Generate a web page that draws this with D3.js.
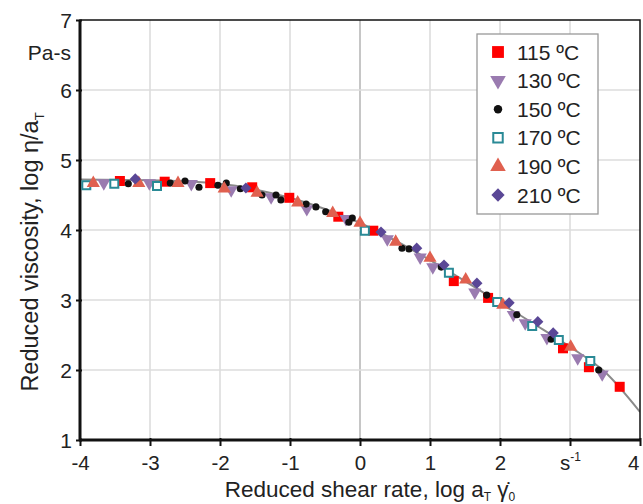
<!DOCTYPE html>
<html><head><meta charset="utf-8">
<script src="https://cdn.jsdelivr.net/npm/d3@7"></script>
<style>body{margin:0;background:#fff}svg{display:block;font-family:"Liberation Sans",Arial,sans-serif}</style>
</head><body><svg id="c" width="643" height="504"></svg>
<script>
const xTicks = [-4,-3,-2,-1,0,1,2,3,4];
const xTickLabels = ["-4","-3","-2","-1","0","1","2","s-1","4"];
const yTicks = [1,2,3,4,5,6,7];
const seriesNames = ["115 ºC","130 ºC","150 ºC","170 ºC","190 ºC","210 ºC"];
const s115 = [[-3.43,4.70],[-2.79,4.69],[-2.14,4.67],[-1.54,4.61],[-1.01,4.46],[-0.31,4.19],[0.19,3.99],[1.34,3.27],[1.83,3.03],[2.90,2.31],[3.27,2.04],[3.71,1.76]];
const s130 = [[-3.66,4.67],[-3.01,4.67],[-2.41,4.66],[-1.84,4.57],[-1.27,4.47],[-0.76,4.30],[-0.20,4.16],[0.39,3.87],[0.86,3.61],[1.04,3.47],[1.64,3.11],[2.19,2.79],[2.36,2.67],[2.67,2.46],[3.11,2.17],[3.46,1.94]];
const s150 = [[-3.31,4.66],[-2.71,4.67],[-2.50,4.70],[-2.30,4.61],[-2.03,4.64],[-1.91,4.67],[-1.71,4.59],[-1.40,4.50],[-1.20,4.50],[-1.13,4.43],[-0.77,4.37],[-0.63,4.33],[-0.49,4.26],[-0.16,4.11],[-0.11,4.17],[0.60,3.74],[0.70,3.73],[1.16,3.47],[1.81,3.07],[2.24,2.79],[2.73,2.44],[3.41,2.00]];
const s170 = [[-3.91,4.64],[-3.51,4.66],[-2.90,4.63],[0.07,3.99],[1.27,3.39],[1.96,2.97],[2.46,2.63],[2.84,2.43],[3.29,2.13]];
const s190 = [[-3.81,4.67],[-3.16,4.67],[-2.60,4.67],[-1.94,4.59],[-1.47,4.53],[-0.89,4.39],[-0.39,4.24],[0.00,4.10],[0.51,3.83],[1.00,3.60],[1.51,3.29],[2.04,2.93],[3.01,2.33]];
const s210 = [[-3.21,4.73],[-1.63,4.60],[0.30,3.97],[0.81,3.74],[1.20,3.50],[1.67,3.24],[2.13,2.96],[2.54,2.69],[2.76,2.53]];
const masterX = [-4,-3,-2,-1.5,-1,-0.5,0,0.5,1,1.5,2,2.5,3,3.5,4];
const masterY = [4.72,4.71,4.66,4.58,4.46,4.30,4.10,3.85,3.57,3.27,2.96,2.65,2.33,1.97,1.40];

const svg = d3.select("#c");
const L=80,R=640,T=20,B=440;
const x = d3.scaleLinear().domain([-4,4]).range([L,R]);
const y = d3.scaleLinear().domain([1,7]).range([B,T]);

// grid
svg.append("g").selectAll("line").data(xTicks.slice(1,-1)).join("line")
  .attr("x1",d=>x(d)).attr("x2",d=>x(d)).attr("y1",T).attr("y2",B)
  .attr("stroke",d=>d===0?"#b8b8b8":"#dcdcdc").attr("stroke-width",1.6);
svg.append("g").selectAll("line").data(yTicks.slice(1,-1)).join("line")
  .attr("y1",d=>y(d)).attr("y2",d=>y(d)).attr("x1",L).attr("x2",R)
  .attr("stroke","#dcdcdc").attr("stroke-width",1.6);

// master curve
const lineGen = d3.line().x(d=>x(d[0])).y(d=>y(d[1])).curve(d3.curveMonotoneX);
svg.append("defs").append("clipPath").attr("id","clip").append("rect").attr("x",L).attr("y",T).attr("width",R-L).attr("height",B-T);
svg.append("path").datum(masterX.map((v,i)=>[v,masterY[i]])).attr("d",lineGen)
  .attr("fill","none").attr("stroke","#8a8a8a").attr("stroke-width",2).attr("clip-path","url(#clip)");

// frame
svg.append("rect").attr("x",L).attr("y",T).attr("width",R-L).attr("height",B-T).attr("fill","none").attr("stroke","#111").attr("stroke-width",1.5);
svg.append("line").attr("x1",L).attr("x2",L).attr("y1",T).attr("y2",B+1).attr("stroke","#111").attr("stroke-width",3);
svg.append("line").attr("x1",L-1).attr("x2",R).attr("y1",B).attr("y2",B).attr("stroke","#111").attr("stroke-width",3);

// axes
const xAxis = d3.axisBottom(x).tickValues(xTicks).tickSize(6).tickFormat((d,i)=>"");
const gx = svg.append("g").attr("transform",`translate(0,${B})`).call(xAxis);
gx.select(".domain").remove();
gx.selectAll(".tick line").attr("stroke","#111").attr("stroke-width",2).attr("y1",-2);
gx.selectAll(".tick").each(function(d,i){
  const last = i===xTicks.length-1;
  const t = d3.select(this).append("text").attr("y",30).attr("x",last?-1:0)
    .attr("text-anchor",last?"end":"middle").attr("fill","#222").attr("font-size",20.5);
  const lab = xTickLabels[i];
  if(lab==="s-1"){ t.append("tspan").text("s"); t.append("tspan").text("-1").attr("font-size",12).attr("dy",-9); }
  else t.text(lab);
});
const yAxis = d3.axisLeft(y).tickValues(yTicks).tickSize(5).tickFormat(d3.format("d"));
const gy = svg.append("g").attr("transform",`translate(${L},0)`).call(yAxis);
gy.select(".domain").remove();
gy.selectAll(".tick line").attr("stroke","#111").attr("stroke-width",2).attr("x2",-4).attr("x1",2);
gy.selectAll(".tick text").attr("font-size",21).attr("fill","#222").attr("x",-8).attr("dy","0.36em").style("font-family","inherit");

svg.append("text").attr("x",71).attr("y",60).attr("text-anchor","end").attr("font-size",21).attr("fill","#222").text("Pa-s");

// axis titles
const yt = svg.append("text").attr("transform","translate(38,252) rotate(-90)").attr("text-anchor","middle").attr("font-size",23.5).attr("fill","#222");
yt.append("tspan").text("Reduced viscosity, log η/a");
yt.append("tspan").text("T").attr("font-size",13).attr("dy",6);
const xt = svg.append("text").attr("x",370).attr("y",497).attr("text-anchor","middle").attr("font-size",22.5).attr("fill","#222");
xt.append("tspan").text("Reduced shear rate, log a");
xt.append("tspan").text("T").attr("font-size",12).attr("dy",4);
xt.append("tspan").text(" γ̇").attr("dy",-4);
xt.append("tspan").text("0").attr("font-size",12).attr("dy",4);

// markers
const styles = [
  {data:s115, shape:d3.symbolSquare, size:100, fill:"#ff0000", stroke:"none", sw:0},
  {data:s130, shape:d3.symbolTriangle, size:75, fill:"#9a7bb0", stroke:"none", sw:0, rot:180},
  {data:s150, shape:d3.symbolCircle, size:40, fill:"#111111", stroke:"none", sw:0},
  {data:s170, shape:d3.symbolSquare, size:64, fill:"#ffffff", stroke:"#2a8a96", sw:2},
  {data:s190, shape:d3.symbolTriangle, size:75, fill:"#e0604f", stroke:"none", sw:0},
  {data:s210, shape:d3.symbolDiamond2, size:80, fill:"#5a4796", stroke:"none", sw:0}
];
const marks = svg.append("g");
styles.forEach(s=>{
  marks.append("g").selectAll("path").data(s.data).join("path")
    .attr("d",d3.symbol().type(s.shape).size(s.size))
    .attr("transform",d=>`translate(${x(d[0])},${y(d[1])})${s.rot?` rotate(${s.rot})`:""}`)
    .attr("fill",s.fill).attr("stroke",s.stroke).attr("stroke-width",s.sw);
});

// legend
const lg = svg.append("g");
lg.append("rect").attr("x",477).attr("y",34).attr("width",121).attr("height",180).attr("fill","#fff").attr("stroke","#999").attr("stroke-width",1.3);
styles.forEach((s,i)=>{
  const cy = 52 + i*28.6;
  lg.append("path").attr("d",d3.symbol().type(s.shape).size(s.size*1.4))
    .attr("transform",`translate(498,${cy})${s.rot?` rotate(${s.rot})`:""}`)
    .attr("fill",s.fill).attr("stroke",s.stroke).attr("stroke-width",s.sw);
  lg.append("text").attr("x",517).attr("y",cy).attr("dy","0.36em").attr("font-size",21).attr("fill","#222").text(seriesNames[i]);
});
</script></body></html>
